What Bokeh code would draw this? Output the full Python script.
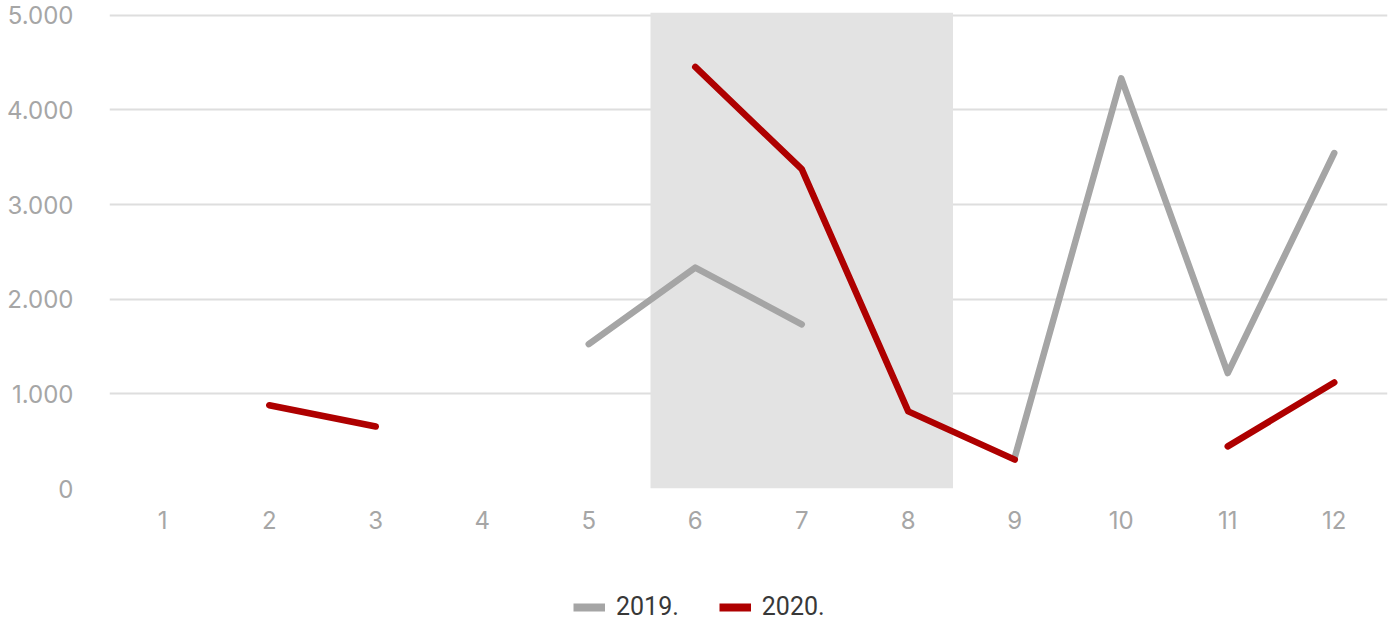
import math
from bokeh.plotting import figure
from bokeh.models import FixedTicker, Legend, LegendItem, Range1d
from bokeh.layouts import column
from bokeh.embed import file_html
from bokeh.resources import INLINE

NaN = float("nan")

months = [1, 2, 3, 4, 5, 6, 7, 8, 9, 10, 11, 12]
month_labels = ["1", "2", "3", "4", "5", "6", "7", "8", "9", "10", "11", "12"]
series_2019 = [NaN, NaN, NaN, NaN, 1525, 2335, 1735, NaN, 330, 4335, 1220, 3545]
series_2020 = [NaN, 880, 655, NaN, NaN, 4455, 3375, 815, 305, NaN, 445, 1120]
series_names = ["2019.", "2020."]
y_ticks = [0, 1000, 2000, 3000, 4000, 5000]
y_tick_labels = ["0", "1.000", "2.000", "3.000", "4.000", "5.000"]
highlight_months = [6, 8]

GRAY = "#a5a5a5"
RED = "#ae0000"
TICK_COLOR = "#a6a6a6"

p = figure(
    frame_width=1278, frame_height=476,
    min_border_left=109, min_border_right=8, min_border_top=12, min_border_bottom=50,
    output_backend="svg", toolbar_location=None,
    x_range=Range1d(0.5, 12.5), y_range=Range1d(0, 5030),
)
p.outline_line_color = None
p.background_fill_color = "white"
p.border_fill_color = "white"

# highlight band
p.quad(left=[highlight_months[0] - 0.42], right=[highlight_months[1] + 0.42],
       bottom=[0], top=[5030], fill_color="#e3e3e3", line_color=None)

r19 = p.line(months, series_2019, line_color=GRAY, line_width=6.5,
             line_cap="round", line_join="round")
r20 = p.line(months, series_2020, line_color=RED, line_width=6.5,
             line_cap="round", line_join="round")

# axes
p.xaxis.ticker = FixedTicker(ticks=months)
p.xaxis.major_label_overrides = {m: l for m, l in zip(months, month_labels)}
p.yaxis.ticker = FixedTicker(ticks=y_ticks)
p.yaxis.major_label_overrides = {t: l for t, l in zip(y_ticks, y_tick_labels)}
for ax in (p.xaxis, p.yaxis):
    ax.axis_line_color = None
    ax.major_tick_line_color = None
    ax.minor_tick_line_color = None
    ax.major_label_text_font = "Inter"
    ax.major_label_text_font_size = "24px"
    ax.major_label_text_color = TICK_COLOR
p.yaxis.major_label_standoff = 30
p.xaxis.major_label_standoff = 16

p.xgrid.grid_line_color = None
p.ygrid.grid_line_color = "#dedede"
p.ygrid.grid_line_width = 2

# legend strip below the chart
leg = figure(
    frame_width=1278, frame_height=83,
    min_border_left=109, min_border_right=8, min_border_top=0, min_border_bottom=0,
    output_backend="svg", toolbar_location=None,
    x_range=Range1d(0, 1), y_range=Range1d(0, 1),
)
leg.axis.visible = False
leg.grid.visible = False
leg.outline_line_color = None
leg.border_fill_color = "white"
l19 = leg.line([NaN, NaN], [NaN, NaN], line_color=GRAY, line_width=8)
l20 = leg.line([NaN, NaN], [NaN, NaN], line_color=RED, line_width=8)

legend = Legend(
    items=[LegendItem(label=series_names[0], renderers=[l19]),
           LegendItem(label=series_names[1], renderers=[l20])],
    orientation="horizontal", location=(464, 0),
    label_text_font="Roboto", label_text_font_size="25px", label_text_color="#383838",
    glyph_width=32, glyph_height=20, label_standoff=11, spacing=40,
    border_line_color=None, background_fill_alpha=0,
    margin=0, padding=0,
)
leg.add_layout(legend, "center")

layout = column(p, leg, spacing=0)
open("out.html", "w").write(file_html(layout, INLINE))
